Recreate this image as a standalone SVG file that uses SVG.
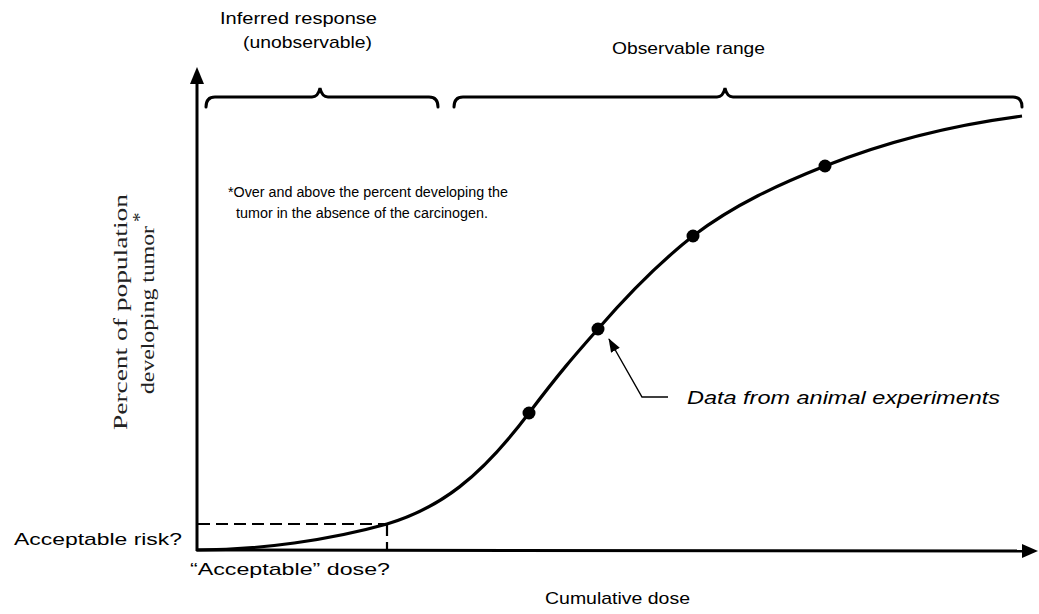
<svg xmlns="http://www.w3.org/2000/svg" width="1039" height="614" viewBox="0 0 1039 614">
<style>
.ax{stroke:#000;stroke-width:3;fill:none}
.br{stroke:#000;stroke-width:3;fill:none;stroke-linecap:round}
.cv{stroke:#000;stroke-width:3.2;fill:none}
.ds{stroke:#000;stroke-width:2.2;fill:none;stroke-dasharray:12 6}
.t{font-family:"Liberation Sans",Arial,sans-serif;font-size:17px;fill:#000}
.fn{font-family:"Liberation Sans",Arial,sans-serif;font-size:14px;fill:#000}
.yl{font-family:"Liberation Serif","Times New Roman",serif;font-size:19px;fill:#222}
.it{font-family:"Liberation Sans",Arial,sans-serif;font-size:19px;font-style:italic;fill:#000}
</style>
<defs>
<marker id="ahs" markerWidth="14" markerHeight="10" refX="13" refY="5" orient="auto" markerUnits="userSpaceOnUse">
<path d="M0,0 L14,5 L0,10 Z" fill="#000"/>
</marker>
</defs>
<rect width="1039" height="614" fill="#fff"/>
<g id="axes">
<line class="ax" x1="197" y1="551" x2="197" y2="82"/>
<path d="M190,84 L197,67 L204,84 Z" fill="#000"/>
<line class="ax" x1="196" y1="550" x2="1022" y2="551"/>
<path d="M1022,544 L1038,551 L1022,558 Z" fill="#000"/>
</g>
<g id="braces">
<path class="br" d="M206,107 Q206,97 215,97 L312,97 Q318,97 320,88 Q322,97 328,97 L429,97 Q438,97 438,107"/>
<path class="br" d="M454,107 Q454,97 463,97 L717,97 Q723,97 725,88 Q727,97 733,97 L1013,97 Q1022,97 1022,107"/>
</g>
<g id="labels-top">
<text class="t" x="220" y="24" textLength="157" lengthAdjust="spacingAndGlyphs">Inferred response</text>
<text class="t" x="243" y="48" textLength="129" lengthAdjust="spacingAndGlyphs">(unobservable)</text>
<text class="t" x="612" y="54" textLength="153" lengthAdjust="spacingAndGlyphs">Observable range</text>
</g>
<g id="footnote">
<text class="fn" x="228" y="197" textLength="280" lengthAdjust="spacingAndGlyphs">*Over and above the percent developing the</text>
<text class="fn" x="236" y="218" textLength="252" lengthAdjust="spacingAndGlyphs">tumor in the absence of the carcinogen.</text>
</g>
<g id="y-label">
<text class="yl" transform="translate(127,430) rotate(-90)" textLength="236" lengthAdjust="spacingAndGlyphs">Percent of population</text>
<text class="yl" transform="translate(154,394) rotate(-90)" textLength="168" lengthAdjust="spacingAndGlyphs">developing tumor</text>
<text class="yl" transform="translate(146,222) rotate(-90)">*</text>
</g>
<g id="dashed">
<path class="ds" d="M198,524 L387,524 M387,524 L387,550"/>
</g>
<g id="curve">
<path class="cv" d="M197,550 C260,550 330,540 387,524 C440,508 480,478 529,413 C560,372 575,355 598,329 C630,292 660,262 693,236 C735,204 780,184 825,166 C890,140 960,124 1022,116"/>
</g>
<g id="points">
<circle cx="529" cy="413" r="6.5" fill="#000"/>
<circle cx="598" cy="329" r="6.5" fill="#000"/>
<circle cx="693" cy="236" r="6.5" fill="#000"/>
<circle cx="825" cy="166" r="6.5" fill="#000"/>
</g>
<g id="connectors">
<path d="M668,397 L642,397 L609,339" stroke="#000" stroke-width="1.4" fill="none" marker-end="url(#ahs)"/>
</g>
<g id="data-label">
<text class="it" x="687" y="404" textLength="313" lengthAdjust="spacingAndGlyphs">Data from animal experiments</text>
</g>
<g id="labels-bottom">
<text class="t" x="14" y="545" textLength="168" lengthAdjust="spacingAndGlyphs">Acceptable risk?</text>
<text class="t" x="190" y="575" textLength="200" lengthAdjust="spacingAndGlyphs">“Acceptable” dose?</text>
<text class="t" x="545" y="604" textLength="145" lengthAdjust="spacingAndGlyphs">Cumulative dose</text>
</g>
</svg>
